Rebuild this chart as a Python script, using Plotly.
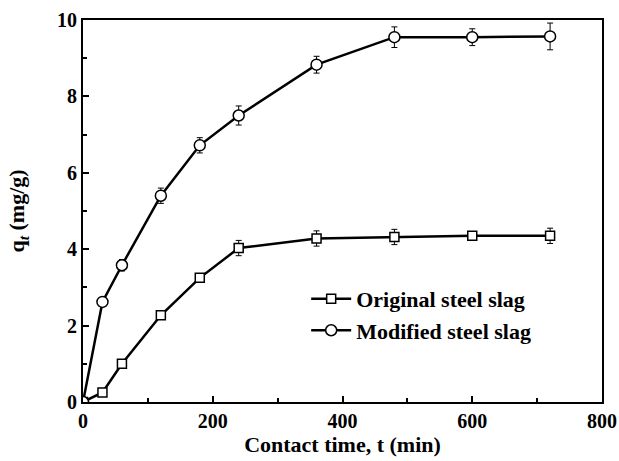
import plotly.graph_objects as go

t = [0, 30, 60, 120, 180, 240, 360, 480, 600, 720]
original = [0, 0.25, 1.0, 2.27, 3.25, 4.03, 4.28, 4.32, 4.35, 4.35]
original_err = [0.03, 0.08, 0.1, 0.1, 0.1, 0.2, 0.2, 0.2, 0.1, 0.2]
modified = [0, 2.62, 3.58, 5.4, 6.72, 7.5, 8.83, 9.55, 9.55, 9.57]
modified_err = [0.03, 0.1, 0.15, 0.2, 0.2, 0.25, 0.22, 0.27, 0.22, 0.35]

FS = 22
TFS = 20
font = dict(family="Liberation Serif", color="black", size=FS)

fig = go.Figure()
fig.add_trace(go.Scatter(
    x=t, y=original, name="<b>Original steel slag</b>", mode="lines+markers",
    line=dict(color="black", width=2.5),
    marker=dict(symbol="square", size=9, color="white", line=dict(color="black", width=1.5)),
    error_y=dict(type="data", array=original_err, color="black", thickness=1, width=3),
))
fig.add_trace(go.Scatter(
    x=t, y=modified, name="<b>Modified steel slag</b>", mode="lines+markers",
    line=dict(color="black", width=2.5),
    marker=dict(symbol="circle", size=11, color="white", line=dict(color="black", width=1.5)),
    error_y=dict(type="data", array=modified_err, color="black", thickness=1, width=3),
))

axis_common = dict(
    showline=True, linecolor="black", linewidth=2, mirror=True,
    ticks="inside", ticklen=6, tickwidth=2, tickcolor="black",
    showgrid=False, zeroline=False, automargin=False,
    ticklabeloverflow="allow",
    tickfont=dict(family="Liberation Serif", color="black", size=TFS),
    minor=dict(ticks="inside", ticklen=4, tickwidth=1.5, tickcolor="black"),
)

fig.update_layout(
    width=619, height=461,
    margin=dict(l=83, r=17, t=20, b=59),
    paper_bgcolor="white", plot_bgcolor="white",
    font=font,
    showlegend=True,
    legend=dict(x=0.43, y=0.325, xanchor="left", yanchor="top",
                bgcolor="rgba(0,0,0,0)", font=dict(family="Liberation Serif", size=FS, color="black"),
                tracegroupgap=0, itemwidth=40),
    xaxis=dict(range=[0, 800], tickvals=[0, 200, 400, 600, 800],
               ticktext=["<b>0</b>", "<b>200</b>", "<b>400</b>", "<b>600</b>", "<b>800</b>"],
               title=dict(text="<b>Contact time, t (min)</b>", standoff=6,
                          font=dict(family="Liberation Serif", size=FS, color="black")),
               **axis_common),
    yaxis=dict(range=[0, 10], tickvals=[0, 2, 4, 6, 8, 10],
               ticktext=["<b>0</b>", "<b>2</b>", "<b>4</b>", "<b>6</b>", "<b>8</b>", "<b>10</b>"],
               title=dict(text="<b>q<sub><i>t</i></sub> (mg/g)</b>", standoff=26,
                          font=dict(family="Liberation Serif", size=FS, color="black")),
               **axis_common),
)
fig.update_xaxes(minor=dict(dtick=100, tick0=0))
fig.update_yaxes(minor=dict(dtick=1, tick0=0))

# remove the browser's default 8px body margin so the 619x461 figure fills the window exactly
fig.write_html(
    "out.html",
    config={"displayModeBar": False},
    post_script="document.body.style.margin='0';document.documentElement.style.overflow='hidden';",
)
